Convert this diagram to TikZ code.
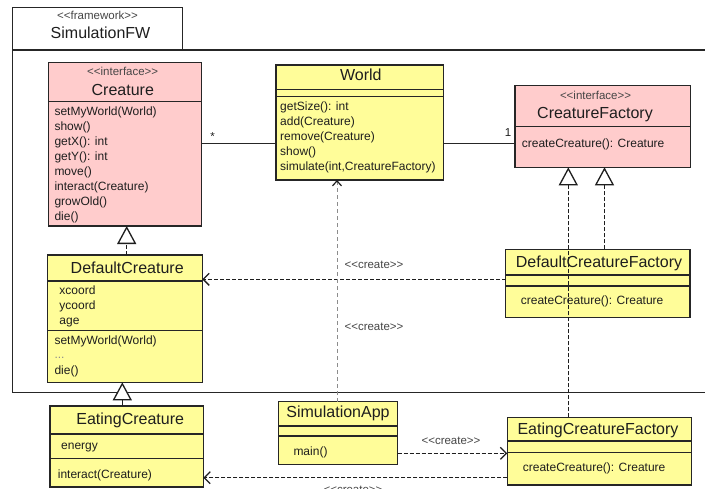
\documentclass[tikz,border=0pt]{standalone}
\usepackage{fontspec}
\setmainfont{Liberation Sans}
\usetikzlibrary{arrows.meta}
\definecolor{ifacefill}{RGB}{255,204,204}
\definecolor{classfill}{RGB}{255,253,153}
\definecolor{edge}{RGB}{38,38,38}
\definecolor{ink}{RGB}{30,30,30}
\definecolor{softink}{RGB}{70,70,70}
\definecolor{faint}{RGB}{140,140,140}
% stereotype brackets written out so they are not merged into guillemets
\newcommand{\stereotype}[1]{<{}<#1>{}>}
\begin{document}
\begin{tikzpicture}[x=1pt,y=-1pt,
  box/.style={draw=edge,line width=1.3pt,inner sep=0pt,outer sep=0pt,anchor=north west},
  iface/.style={box,fill=ifacefill},
  cls/.style={box,fill=classfill},
  sep/.style={draw=edge,line width=1.2pt},
  member/.style={inner sep=0pt,anchor=west,text=ink,font=\fontsize{12}{14}\selectfont,text height=8.5pt,text depth=2pt},
  title/.style={inner sep=0pt,anchor=center,text=ink,font=\fontsize{16}{18}\selectfont,text height=11.5pt,text depth=3.5pt},
  stereo/.style={inner sep=0pt,anchor=center,text=softink,font=\fontsize{11.5}{13}\selectfont,text height=8pt,text depth=2pt},
  note/.style={inner sep=0pt,anchor=center,text=softink,font=\fontsize{11.5}{13}\selectfont,text height=8pt,text depth=2pt},
  assoc/.style={draw=edge,line width=1.2pt},
  realize/.style={draw=ink,line width=1.1pt,dash pattern=on 4pt off 2pt,
    -{Triangle[length=18pt,width=19pt,fill=white,line width=1.3pt]}},
  inherit/.style={draw=ink,line width=1.1pt,
    -{Triangle[length=18pt,width=19pt,fill=white,line width=1.3pt]}},
  depend/.style={draw=ink,line width=1.1pt,dash pattern=on 4pt off 2pt,
    -{Straight Barb[length=6pt,width=12pt,line width=1.3pt]}},
  lightdep/.style={draw=faint,line width=1pt,dash pattern=on 4pt off 3pt,
    -{Straight Barb[length=5pt,width=9pt,line width=1.2pt,color=ink]}},
]
\useasboundingbox (0,0) rectangle (705,488);
\clip (0,0) rectangle (705,488);
\fill[white] (0,0) rectangle (705,488);

% package frame with its tab
\draw[edge,line width=1.1pt] (12.7,50) -- (712,50);
\draw[edge,line width=1.1pt] (12.7,50) -- (12.7,392.7) -- (712,392.7);
\node[box,fill=white,minimum width=170pt,minimum height=42.7pt,line width=1.2pt] (pkg) at (12.7,7.3) {};
\draw[edge,line width=1.8pt] (12.7,50) -- (182.7,50);
\node[stereo] at (97.5,16.7) {\stereotype{framework}};
\node[title] at (100.5,34.5) {SimulationFW};

% Creature
\node[iface,minimum width=153.4pt,minimum height=163.7pt] (creature) at (48.3,62.3) {};
\draw[sep] (48.3,101.7) -- (201.7,101.7);
\node[stereo] at (122.7,72.5) {\stereotype{interface}};
\node[title] at (122.8,91) {Creature};
\foreach \t [count=\i from 0] in {setMyWorld(World),show(),getX(): int,getY(): int,move(),interact(Creature),growOld(),die()}
  \node[member] at (54.3,112.7+15*\i) {\t};

% World
\node[cls,minimum width=167.3pt,minimum height=115pt] (world) at (276,65) {};
\draw[sep] (276,89.3) -- (443.3,89.3);
\draw[sep] (276,96.7) -- (443.3,96.7);
\node[title] at (360.8,76.5) {World};
\foreach \t [count=\i from 0] in {getSize(): int,add(Creature),remove(Creature),show(),{simulate(int,CreatureFactory)}}
  \node[member] at (280,107.7+15*\i) {\t};

% CreatureFactory
\node[iface,minimum width=175.7pt,minimum height=81.6pt] (cfactory) at (515,85.7) {};
\draw[sep] (515,126.7) -- (690.7,126.7);
\node[stereo] at (595.5,96) {\stereotype{interface}};
\node[title] at (595,114) {CreatureFactory};
\node[member] at (521.7,144.3) {createCreature(): Creature};

% DefaultCreature
\node[cls,minimum width=155pt,minimum height=127.3pt] (dcreature) at (47.3,255) {};
\draw[sep] (47.3,281) -- (202.3,281);
\draw[sep] (47.3,330.7) -- (202.3,330.7);
\node[title] at (127.2,269.8) {DefaultCreature};
\node[member] at (59.3,291) {xcoord};
\node[member] at (59.3,306) {ycoord};
\node[member] at (59.3,321.3) {age};
\node[member] at (54.3,341.7) {setMyWorld(World)};
\node[member,text=faint] at (54.3,355) {...};
\node[member] at (54.3,371.7) {die()};

% EatingCreature
\node[cls,minimum width=153.3pt,minimum height=81pt] (ecreature) at (50,406) {};
\draw[sep] (50,434) -- (203.3,434);
\draw[sep] (50,458.3) -- (203.3,458.3);
\node[title] at (130.2,420.5) {EatingCreature};
\node[member] at (61,446.7) {energy};
\node[member] at (57.7,475) {interact(Creature)};

% DefaultCreatureFactory
\node[cls,minimum width=184.3pt,minimum height=68.4pt] (dfactory) at (505.7,249.3) {};
\draw[sep] (505.7,275) -- (690,275);
\draw[sep] (505.7,286) -- (690,286);
\node[title] at (599,263) {DefaultCreatureFactory};
\node[member] at (520.7,301) {createCreature(): Creature};

% SimulationApp
\node[cls,minimum width=119.4pt,minimum height=62.6pt] (app) at (278.3,401.7) {};
\draw[sep] (278.3,426) -- (397.7,426);
\draw[sep] (278.3,436) -- (397.7,436);
\node[title] at (338,413.8) {SimulationApp};
\node[member] at (293.3,452.7) {main()};

% EatingCreatureFactory
\node[cls,minimum width=184.4pt,minimum height=67.7pt] (efactory) at (507.3,417.3) {};
\draw[sep] (507.3,441) -- (691.7,441);
\draw[sep] (507.3,452.3) -- (691.7,452.3);
\node[title] at (598,430.5) {EatingCreatureFactory};
\node[member] at (522.7,468.3) {createCreature(): Creature};

% associations
\draw[assoc] (creature.east |- 0,143.3) -- (world.west |- 0,143.3);
\node[note,text=ink] at (212.7,137.5) {*};
\draw[assoc] (world.east |- 0,143.3) -- (cfactory.west |- 0,143.3);
\node[note,text=ink] at (508,133) {1};

% realizations and inheritance
\draw[realize] (dcreature.north -| 126.7,0) -- (creature.south -| 126.7,0);
\draw[realize] (dfactory.north -| 604.5,0) -- (cfactory.south -| 604.5,0);
\draw[realize] (efactory.north -| 568.3,0) -- (cfactory.south -| 568.3,0);
\draw[inherit] (ecreature.north -| 122.3,0) -- (dcreature.south -| 122.3,0);

% <<create>> dependencies
\draw[depend] (dfactory.west |- 0,279.3) -- (dcreature.east |- 0,279.3);
\node[note] at (374,265.7) {\stereotype{create}};
\draw[lightdep] (app.north -| 337,0) -- (world.south -| 337,0);
\node[note] at (374,327.7) {\stereotype{create}};
\draw[depend] (app.east |- 0,453.3) -- (efactory.west |- 0,453.3);
\node[note] at (451,441.7) {\stereotype{create}};
\draw[depend] (efactory.west |- 0,477.7) -- (ecreature.east |- 0,477.7);
\node[note] at (353,490.5) {\stereotype{create}};
\end{tikzpicture}
\end{document}
